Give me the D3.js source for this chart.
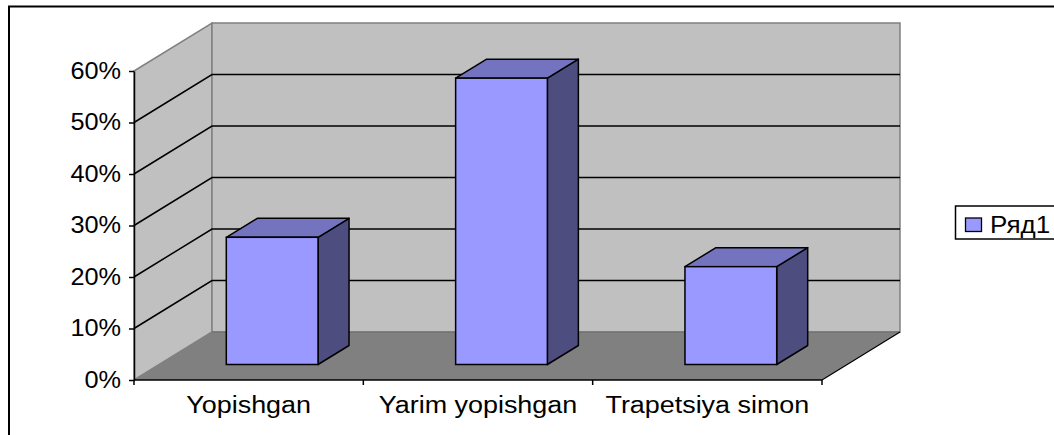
<!DOCTYPE html>
<html>
<head>
<meta charset="utf-8">
<script src="https://cdn.jsdelivr.net/npm/d3@7"></script>
<style>
html,body{margin:0;padding:0;background:#fff;overflow:hidden}
text{font-family:"Liberation Sans",Arial,sans-serif;font-size:23px;fill:#000}
</style>
</head>
<body>
<div id="chart"></div>
<script>
// data
const categories = ["Yopishgan", "Yarim yopishgan", "Trapetsiya simon"];
const values = [0.247, 0.556, 0.19];
const yTicks = [0, 0.1, 0.2, 0.3, 0.4, 0.5, 0.6];
const seriesName = "Ряд1";

const width = 1054, height = 435;

// front plane of the 3d box + depth offset of the back wall
const x0 = 134, x1 = 822, y0 = 380, y1 = 71;
const depth = {x: 78, y: -48};
const barDepth = {x: 31, y: -19};
const inset = {x: 23.5, y: -15.5};
// the source picture is stretched sideways, text too
const stretch = 1.13, stretchX = 1.17, stretchY = 1.1;

const svg = d3.select("#chart").append("svg")
    .attr("width", width)
    .attr("height", height)
    .style("display", "block");

// outer frame, only top and left fall inside the picture
svg.append("rect")
    .attr("x", 9).attr("y", 6.5)
    .attr("width", 1100).attr("height", 500)
    .attr("fill", "none").attr("stroke", "#000").attr("stroke-width", 2);

const x = d3.scaleBand().domain(categories).range([x0, x1]).paddingInner(0.6).paddingOuter(0.3);
const xOuter = d3.scaleBand().domain(categories).range([x0, x1]);
const y = d3.scaleLinear().domain([0, 0.6]).range([y0, y1]);

const pts = a => a.map(p => p.join(",")).join(" ");

// side wall
svg.append("polygon")
    .attr("points", pts([[x0, y0], [x0, y1], [x0 + depth.x, y1 + depth.y], [x0 + depth.x, y0 + depth.y]]))
    .attr("fill", "#c0c0c0").attr("stroke", "#808080").attr("stroke-width", 1.5);
// back wall
svg.append("polygon")
    .attr("points", pts([[x0 + depth.x, y0 + depth.y], [x0 + depth.x, y1 + depth.y], [x1 + depth.x, y1 + depth.y], [x1 + depth.x, y0 + depth.y]]))
    .attr("fill", "#c0c0c0").attr("stroke", "#808080").attr("stroke-width", 1.5);
// floor
svg.append("polygon")
    .attr("points", pts([[x0, y0], [x0 + depth.x, y0 + depth.y], [x1 + depth.x, y0 + depth.y], [x1, y0]]))
    .attr("fill", "#808080");
svg.append("line")
    .attr("x1", x0 + depth.x).attr("y1", y0 + depth.y)
    .attr("x2", x1 + depth.x).attr("y2", y0 + depth.y)
    .attr("stroke", "#6a6a6a").attr("stroke-width", 1);
svg.append("line")
    .attr("x1", x1).attr("y1", y0)
    .attr("x2", x1 + depth.x).attr("y2", y0 + depth.y)
    .attr("stroke", "#000").attr("stroke-width", 1.2);

// gridlines, along side wall and back wall
svg.append("g").selectAll("polyline")
    .data(yTicks.slice(1, -1))
    .join("polyline")
    .attr("points", d => pts([[x0, y(d)], [x0 + depth.x, y(d) + depth.y], [x1 + depth.x, y(d) + depth.y]]))
    .attr("fill", "none").attr("stroke", "#000").attr("stroke-width", 1.5);

// bars
const bars = svg.append("g").selectAll("g")
    .data(categories.map((c, i) => ({c, v: values[i]})))
    .join("g")
    .attr("transform", `translate(${inset.x},${inset.y})`);

bars.append("polygon") // right side
    .attr("points", d => {
      const r = x(d.c) + x.bandwidth();
      return pts([[r, y(d.v)], [r + barDepth.x, y(d.v) + barDepth.y], [r + barDepth.x, y0 + barDepth.y], [r, y0]]);
    })
    .attr("fill", "#4d4d80").attr("stroke", "#000").attr("stroke-width", 1.5).attr("stroke-linejoin", "round");
bars.append("polygon") // top
    .attr("points", d => {
      const l = x(d.c), r = l + x.bandwidth();
      return pts([[l, y(d.v)], [l + barDepth.x, y(d.v) + barDepth.y], [r + barDepth.x, y(d.v) + barDepth.y], [r, y(d.v)]]);
    })
    .attr("fill", "#7373bf").attr("stroke", "#000").attr("stroke-width", 1.5).attr("stroke-linejoin", "round");
bars.append("rect") // front
    .attr("x", d => x(d.c))
    .attr("y", d => y(d.v))
    .attr("width", x.bandwidth())
    .attr("height", d => y0 - y(d.v))
    .attr("fill", "#9999ff").attr("stroke", "#000").attr("stroke-width", 1.5);

// y axis
const yAxis = d3.axisLeft(y).tickValues(yTicks).tickFormat(d3.format(".0%")).tickSize(5).tickPadding(0).tickSizeOuter(0);
const yg = svg.append("g").attr("transform", `translate(${x0},0)`).call(yAxis);
yg.select(".domain").attr("stroke", "#000").attr("stroke-width", 1.5);
yg.selectAll(".tick line").attr("stroke", "#000").attr("stroke-width", 1.5);
yg.selectAll(".tick text")
    .attr("x", -13 / stretchY)
    .attr("transform", `scale(${stretchY},1)`);

// x axis, ticks sit between the categories
svg.append("line")
    .attr("x1", x0).attr("y1", y0).attr("x2", x1).attr("y2", y0)
    .attr("stroke", "#000").attr("stroke-width", 1.5);
svg.append("g").selectAll("line")
    .data(categories.map(c => xOuter(c)).concat([x1]))
    .join("line")
    .attr("x1", d => d).attr("x2", d => d)
    .attr("y1", y0).attr("y2", y0 + 5)
    .attr("stroke", "#000").attr("stroke-width", 1.5);
svg.append("g").selectAll("text")
    .data(categories)
    .join("text")
    .attr("transform", d => `translate(${xOuter(d) + xOuter.bandwidth() / 2},413) scale(${stretchX},1)`)
    .attr("text-anchor", "middle")
    .text(d => d);

// legend
svg.append("rect")
    .attr("x", 955.5).attr("y", 206)
    .attr("width", 120).attr("height", 33)
    .attr("fill", "#fff").attr("stroke", "#000").attr("stroke-width", 1.5);
svg.append("rect")
    .attr("x", 965.5).attr("y", 218)
    .attr("width", 16).attr("height", 13.5)
    .attr("fill", "#9999ff").attr("stroke", "#000").attr("stroke-width", 1.3);
svg.append("text")
    .attr("transform", `translate(990,233) scale(${stretch},1)`)
    .text(seriesName);
</script>
</body>
</html>
